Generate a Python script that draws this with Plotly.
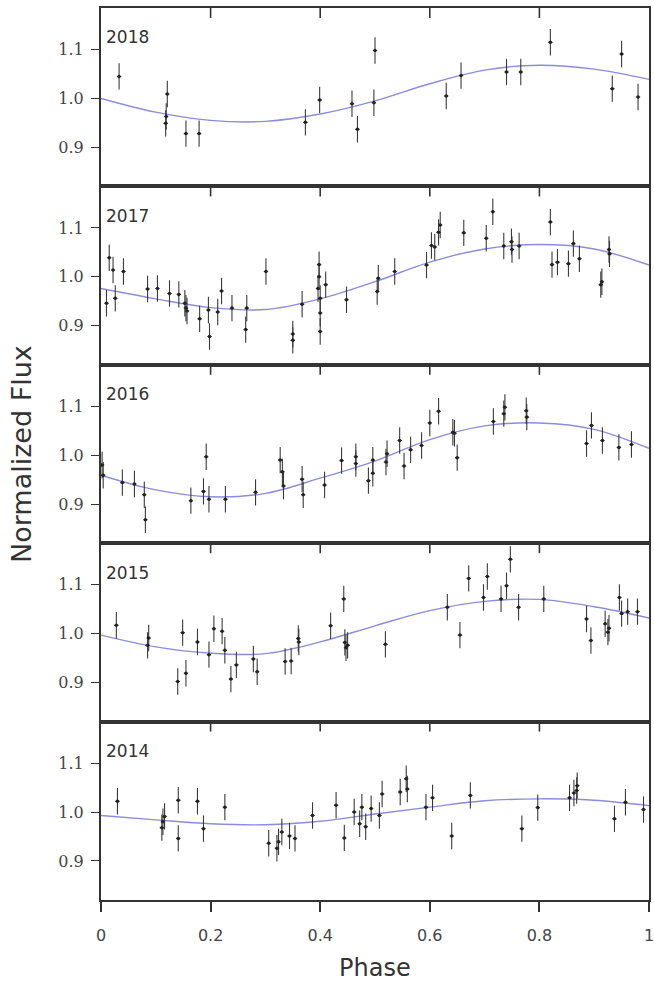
import plotly.graph_objects as go
from plotly.subplots import make_subplots

# Observing seasons, top panel first
years = ["2018", "2017", "2016", "2015", "2014"]

# Phase-folded photometry per season
phase_2018 = [0.033, 0.118, 0.119, 0.121, 0.155, 0.179, 0.373, 0.399, 0.458, 0.468,
              0.498, 0.500, 0.630, 0.657, 0.740, 0.766, 0.820, 0.933, 0.950, 0.980]
flux_2018 = [1.045, 0.949, 0.963, 1.009, 0.928, 0.928, 0.951, 0.997, 0.989, 0.937,
             0.991, 1.098, 1.005, 1.047, 1.054, 1.054, 1.115, 1.020, 1.091, 1.003]

phase_2017 = [0.010, 0.015, 0.022, 0.026, 0.041, 0.085, 0.103, 0.125, 0.142, 0.153,
              0.155, 0.157, 0.180, 0.196, 0.198, 0.213, 0.220, 0.239, 0.264, 0.266,
              0.301, 0.350, 0.350, 0.367, 0.396, 0.398, 0.398, 0.400, 0.400, 0.400,
              0.410, 0.448, 0.504, 0.506, 0.536, 0.594, 0.603, 0.609, 0.616, 0.619,
              0.662, 0.703, 0.715, 0.735, 0.749, 0.750, 0.763, 0.820, 0.823, 0.833,
              0.853, 0.862, 0.873, 0.912, 0.914, 0.927, 0.928]
flux_2017 = [0.946, 1.039, 1.014, 0.956, 1.011, 0.975, 0.976, 0.966, 0.964, 0.946,
             0.936, 0.930, 0.914, 0.932, 0.878, 0.928, 0.971, 0.936, 0.892, 0.936,
             1.011, 0.870, 0.883, 0.944, 0.976, 1.025, 1.000, 0.956, 0.926, 0.888,
             0.984, 0.953, 0.970, 0.997, 1.011, 1.024, 1.064, 1.061, 1.091, 1.106,
             1.090, 1.079, 1.133, 1.063, 1.072, 1.056, 1.063, 1.112, 1.025, 1.030,
             1.027, 1.068, 1.037, 0.984, 0.990, 1.056, 1.047]

phase_2016 = [0.002, 0.004, 0.039, 0.061, 0.079, 0.081, 0.164, 0.187, 0.192, 0.197,
              0.227, 0.282, 0.327, 0.331, 0.333, 0.367, 0.369, 0.408, 0.439, 0.465,
              0.465, 0.488, 0.496, 0.496, 0.520, 0.522, 0.545, 0.553, 0.565, 0.585,
              0.600, 0.616, 0.642, 0.645, 0.650, 0.716, 0.735, 0.737, 0.776, 0.777,
              0.886, 0.895, 0.915, 0.945, 0.968]
flux_2016 = [0.980, 0.959, 0.944, 0.941, 0.919, 0.868, 0.907, 0.926, 0.997, 0.910,
             0.910, 0.924, 0.990, 0.966, 0.937, 0.951, 0.919, 0.939, 0.989, 0.997,
             0.983, 0.948, 0.963, 0.990, 0.986, 1.003, 1.030, 0.978, 1.011, 1.020,
             1.066, 1.090, 1.047, 1.045, 0.995, 1.069, 1.085, 1.098, 1.091, 1.078,
             1.024, 1.061, 1.030, 1.016, 1.022]

phase_2015 = [0.028, 0.085, 0.087, 0.140, 0.149, 0.155, 0.176, 0.197, 0.206, 0.221,
              0.226, 0.237, 0.247, 0.278, 0.285, 0.336, 0.347, 0.360, 0.361, 0.419,
              0.443, 0.445, 0.447, 0.450, 0.519, 0.632, 0.655, 0.671, 0.698, 0.705,
              0.730, 0.740, 0.747, 0.762, 0.808, 0.886, 0.894, 0.920, 0.925, 0.927,
              0.946, 0.950, 0.961, 0.979]
flux_2015 = [1.017, 0.976, 0.991, 0.902, 1.002, 0.919, 0.983, 0.957, 1.010, 1.005,
             0.966, 0.907, 0.936, 0.948, 0.922, 0.943, 0.944, 0.990, 0.983, 1.016,
             1.071, 0.982, 0.971, 0.976, 0.978, 1.054, 0.997, 1.113, 1.074, 1.117,
             1.071, 1.098, 1.152, 1.054, 1.071, 1.030, 0.986, 1.020, 1.003, 1.011,
             1.074, 1.041, 1.045, 1.045]

phase_2014 = [0.030, 0.111, 0.113, 0.116, 0.141, 0.141, 0.176, 0.187, 0.226, 0.306,
              0.321, 0.324, 0.330, 0.344, 0.354, 0.386, 0.429, 0.444, 0.462, 0.472,
              0.476, 0.483, 0.493, 0.508, 0.513, 0.546, 0.557, 0.559, 0.593, 0.605,
              0.640, 0.674, 0.768, 0.797, 0.855, 0.863, 0.868, 0.869, 0.937, 0.957,
              0.990]
flux_2014 = [1.022, 0.968, 0.980, 0.991, 1.024, 0.946, 1.022, 0.966, 1.010, 0.936,
             0.926, 0.939, 0.959, 0.951, 0.946, 0.993, 1.014, 0.947, 1.000, 0.976,
             1.010, 0.970, 1.007, 0.993, 1.037, 1.041, 1.068, 1.047, 1.010, 1.029,
             0.951, 1.034, 0.966, 1.009, 1.029, 1.039, 1.044, 1.054, 0.986, 1.020,
             1.005]

flux_err = 0.027
phase_err = 0.004

# Best-fit sinusoidal model sampled along phase
model_phase = [0.0, 0.1, 0.2, 0.3, 0.4, 0.5, 0.6, 0.7, 0.8, 0.9, 1.0]
model_2018 = [1.000, 0.972, 0.955, 0.953, 0.968, 0.995, 1.030, 1.058, 1.068, 1.060, 1.039]
model_2017 = [0.976, 0.955, 0.937, 0.933, 0.955, 0.990, 1.030, 1.057, 1.066, 1.057, 1.024]
model_2016 = [0.959, 0.929, 0.915, 0.922, 0.953, 0.988, 1.032, 1.060, 1.066, 1.053, 1.014]
model_2015 = [0.997, 0.973, 0.960, 0.959, 0.983, 1.016, 1.047, 1.066, 1.070, 1.055, 1.032]
model_2014 = [0.993, 0.984, 0.976, 0.974, 0.981, 0.996, 1.010, 1.023, 1.027, 1.024, 1.013]

phases = [phase_2018, phase_2017, phase_2016, phase_2015, phase_2014]
fluxes = [flux_2018, flux_2017, flux_2016, flux_2015, flux_2014]
models = [model_2018, model_2017, model_2016, model_2015, model_2014]

x_ticks = [0, 0.2, 0.4, 0.6, 0.8, 1]
x_tick_text = ["0", "0.2", "0.4", "0.6", "0.8", "1"]
y_ticks = [0.9, 1.0, 1.1]
y_tick_text = ["0.9", "1.0", "1.1"]

ink = "#333333"
fit_color = "#8c8cda"
tick_len_px = 10
panel_px = (984 - 8 - 84) / 5

fig = make_subplots(rows=5, cols=1, shared_xaxes=True, vertical_spacing=0)

for i, year in enumerate(years):
    row = i + 1
    ax = "" if row == 1 else str(row)
    fig.add_trace(go.Scatter(
        x=model_phase, y=models[i], mode="lines",
        line=dict(color=fit_color, width=1.4, shape="spline"),
        hoverinfo="skip", showlegend=False), row=row, col=1)
    fig.add_trace(go.Scatter(
        x=phases[i], y=fluxes[i], mode="markers",
        marker=dict(color="#222222", size=3.5),
        error_y=dict(type="constant", value=flux_err, color="#3a3a3a",
                     thickness=1.1, width=0),
        error_x=dict(type="constant", value=phase_err, color="#3a3a3a",
                     thickness=1.1, width=0),
        showlegend=False, name=year), row=row, col=1)
    fig.add_annotation(text=year, xref=f"x{ax} domain", yref=f"y{ax} domain",
                       x=0.006, y=0.835, xanchor="left", yanchor="middle",
                       showarrow=False,
                       font=dict(family="DejaVu Sans", size=17, color=ink))
    # phase ticks hanging down from the top edge of every panel
    for t in x_ticks[1:-1]:
        fig.add_shape(type="line", xref=f"x{ax}", yref=f"y{ax} domain",
                      x0=t, x1=t, y0=1, y1=1 - tick_len_px / panel_px,
                      line=dict(color=ink, width=1.6), layer="above")

fig.update_xaxes(range=[0, 1], tickvals=x_ticks, ticktext=x_tick_text,
                 showgrid=False, zeroline=False,
                 showline=True, linewidth=2, linecolor=ink, mirror=True,
                 ticks="", ticklabelstandoff=10, ticklabeloverflow="allow",
                 tickfont=dict(family="DejaVu Sans", size=16, color="#444444"))
fig.update_xaxes(ticks="outside", ticklen=tick_len_px, tickwidth=1.6,
                 tickcolor=ink, row=5, col=1)
fig.update_yaxes(range=[0.82, 1.185], tickvals=y_ticks, ticktext=y_tick_text,
                 showgrid=False, zeroline=False,
                 showline=True, linewidth=2, linecolor=ink, mirror=True,
                 ticks="outside", ticklen=8, tickwidth=1.4, tickcolor=ink,
                 ticklabelstandoff=4,
                 tickfont=dict(family="DejaVu Serif", size=16, color="#444444"))

fig.add_annotation(text="Normalized Flux", xref="paper", yref="paper",
                   x=0, y=0.5, xshift=-80, textangle=-90, showarrow=False,
                   xanchor="center", yanchor="middle",
                   font=dict(family="DejaVu Sans", size=27, color=ink))
fig.add_annotation(text="Phase", xref="paper", yref="paper",
                   x=0.5, y=0, yshift=-68, showarrow=False,
                   xanchor="center", yanchor="middle",
                   font=dict(family="DejaVu Sans", size=24, color=ink))

fig.update_layout(template="none", width=654, height=984, paper_bgcolor="white",
                  plot_bgcolor="rgba(0,0,0,0)",
                  margin=dict(l=101, r=5, t=8, b=84))

fig.write_html("out.html")
